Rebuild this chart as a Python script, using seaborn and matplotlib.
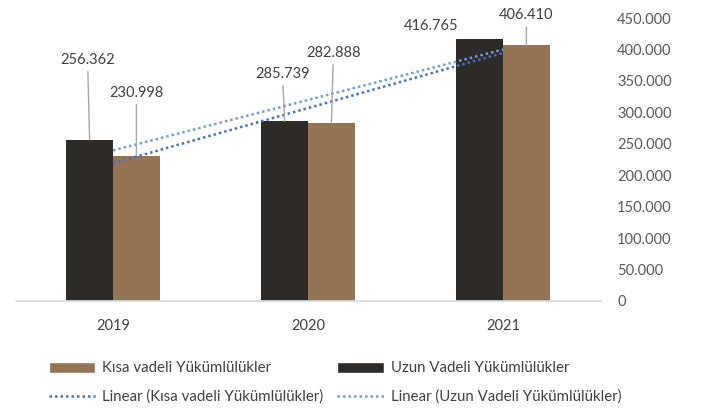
import numpy as np
import pandas as pd
import seaborn as sns
from matplotlib import pyplot as plt
from matplotlib.patches import Patch
from matplotlib.lines import Line2D

# Data
years = ['2019', '2020', '2021']
uzun_vadeli = [256362, 285739, 416765]
kisa_vadeli = [230998, 282888, 406410]
uzun_name = 'Uzun Vadeli Yükümlülükler'
kisa_name = 'Kısa vadeli Yükümlülükler'
y_ticks = list(range(0, 450001, 50000))

# Colours
dark = '#2E2A27'
brown = '#957456'
blue_kisa = '#4472C4'
blue_uzun = '#6FA0DC'
text_color = '#404040'


def tr_format(v):
    return f'{v:,.0f}'.replace(',', '.')


df = pd.DataFrame({
    'Yıl': years * 2,
    'Değer': uzun_vadeli + kisa_vadeli,
    'Seri': [uzun_name] * 3 + [kisa_name] * 3,
})

sns.set_theme(style='white')
plt.rcParams['font.family'] = ['Lato', 'DejaVu Sans']

fig = plt.figure(figsize=(7.02, 4.13), dpi=100)
ax = fig.add_axes([15.5 / 702, 112 / 413, 585 / 702, 283 / 413])

sns.barplot(data=df, x='Yıl', y='Değer', hue='Seri',
            hue_order=[uzun_name, kisa_name], palette=[dark, brown],
            width=0.48, gap=0, saturation=1, errorbar=None,
            linewidth=0, legend=False, ax=ax)

# Linear trend lines
xs = np.arange(len(years))
for vals, col in [(kisa_vadeli, blue_kisa), (uzun_vadeli, blue_uzun)]:
    coef = np.polyfit(xs, vals, 1)
    ax.plot(xs, np.polyval(coef, xs), color=col, lw=1.8,
            linestyle=(0, (1, 1.2)), zorder=3)

ax.set_xlim(-0.5, 2.5)
ax.set_ylim(0, 450000)
ax.set_yticks(y_ticks)
ax.set_yticklabels([tr_format(t) for t in y_ticks])
ax.yaxis.tick_right()
ax.tick_params(axis='y', length=0, pad=12, labelsize=10.5, labelcolor='#595959')
ax.tick_params(axis='x', length=0, pad=13, labelsize=10.5, labelcolor=text_color)
ax.set_xlabel('')
ax.set_ylabel('')
for side in ['top', 'left', 'right']:
    ax.spines[side].set_visible(False)
ax.spines['bottom'].set_color('#D9D9D9')

# Data labels with leader lines (offsets in pixels)
label_offsets = [
    [(-2, 80), (-2, 47), (-48, 13)],
    [(0, 63), (2, 70), (0, 30)],
]
draw_leader = [[True, True, False], [True, True, True]]
for ci, container in enumerate(ax.containers):
    for bi, bar in enumerate(container):
        xc = bar.get_x() + bar.get_width() / 2
        h = bar.get_height()
        dx, dy = label_offsets[ci][bi]
        props = dict(arrowstyle='-', color='#A6A6A6', lw=1,
                     shrinkA=1, shrinkB=0) if draw_leader[ci][bi] else None
        ax.annotate(tr_format(h), xy=(xc, h), xytext=(dx, dy),
                    textcoords='offset pixels', ha='center', va='center',
                    fontsize=10.5, color=text_color, arrowprops=props,
                    annotation_clip=False)

# Legend
handles = [
    Patch(facecolor=brown, label=kisa_name),
    Line2D([], [], color=blue_kisa, lw=1.8, linestyle=(0, (1, 1.2)),
           label='Linear (' + kisa_name + ')'),
    Patch(facecolor=dark, label=uzun_name),
    Line2D([], [], color=blue_uzun, lw=1.8, linestyle=(0, (1, 1.2)),
           label='Linear (' + uzun_name + ')'),
]
fig.legend(handles=handles, ncol=2, loc='upper left',
           bbox_to_anchor=(35 / 702, 1 - 348 / 413), frameon=False,
           fontsize=10.8, labelcolor=text_color, handlelength=3.1,
           handleheight=0.7, labelspacing=0.95, columnspacing=0.9,
           handletextpad=0.5)

fig.savefig('out.png', dpi=100)
plt.close(fig)
